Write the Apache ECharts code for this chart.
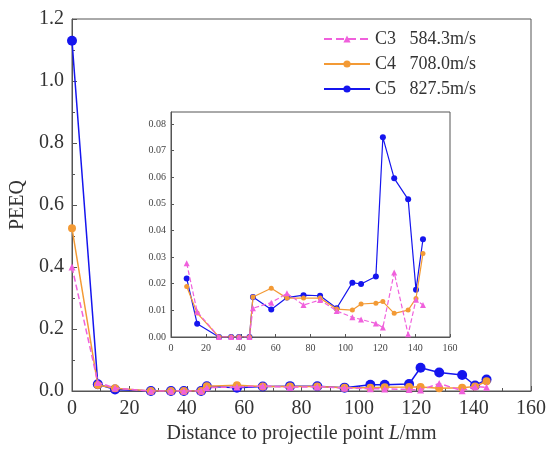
<!DOCTYPE html>
<html><head><meta charset="utf-8">
<script src="https://cdn.jsdelivr.net/npm/echarts@6/dist/echarts.min.js"></script>
<style>html,body{margin:0;padding:0;background:#fff}#c{width:549px;height:450px}</style>
</head><body><div id="c"></div>
<script>
var distances = [0, 9, 15, 27.5, 34.5, 39, 45, 47, 57.5, 66.5, 76, 85.5, 95, 104, 109, 117.5, 121.5, 128, 136, 140.5, 144.5];
var peeqC3 = [0.40, 0.0277, 0.0095, 0, 0, 0, 0, 0.0108, 0.0129, 0.0164, 0.012, 0.0139, 0.0098, 0.0074, 0.0066, 0.0051, 0.0036, 0.0242, 0.001, 0.014, 0.012];
var peeqC4 = [0.525, 0.019, 0.009, 0, 0, 0, 0, 0.015, 0.0183, 0.0146, 0.0146, 0.0146, 0.0105, 0.0101, 0.0124, 0.0127, 0.0133, 0.0089, 0.0101, 0.0145, 0.0314];
var peeqC5 = [1.13, 0.022, 0.005, 0, 0, 0, 0, 0.015, 0.0103, 0.0148, 0.0157, 0.0155, 0.0108, 0.0204, 0.0199, 0.0227, 0.075, 0.0596, 0.0517, 0.0177, 0.0367];
var caseNames = ['C3', 'C4', 'C5'];
var speeds = ['584.3m/s', '708.0m/s', '827.5m/s'];
var mainXTicks = [0, 160, 20];
var mainYTicks = [0, 1.2, 0.2];
var insetXTicks = [0, 160, 20];
var insetYTicks = [0, 0.0845, 0.01];

function pairs(xs, ys, from) {
  var out = [];
  for (var i = from; i < xs.length; i++) out.push([xs[i], ys[i]]);
  return out;
}
var FONT = 'Liberation Serif';
var colors = ['#f060dc', '#f39a35', '#1515ee'];
var symbols = ['triangle', 'circle', 'circle'];
var values = [peeqC3, peeqC4, peeqC5];
var labels = caseNames.map(function (n, i) { return n + '   ' + speeds[i]; });

var axisCol = '#555';
function mkSeries(i, grid, inset) {
  var order = i === 0 ? 3 : i === 1 ? 2 : 1;
  return {
    name: labels[i], type: 'line',
    xAxisIndex: grid, yAxisIndex: grid,
    data: pairs(distances, values[i], inset ? 1 : 0),
    symbol: symbols[i],
    symbolSize: inset ? [6, 5, 6][i] : [7, 8, 10][i],
    showSymbol: true,
    lineStyle: { color: colors[i], width: inset ? 1.2 : 1.5, type: i === 0 ? 'dashed' : 'solid' },
    itemStyle: { color: colors[i] },
    z: (inset ? 20 : 2) + order,
    animation: false
  };
}

var series = [];
[2, 1, 0].forEach(function (i) { series.push(mkSeries(i, 0, false)); });
[2, 1, 0].forEach(function (i) { series.push(mkSeries(i, 1, true)); });

var chart = echarts.init(document.getElementById('c'), null, { renderer: 'canvas' });
chart.setOption({
  backgroundColor: '#fff',
  animation: false,
  textStyle: { fontFamily: FONT },
  legend: {
    data: labels,
    orient: 'vertical',
    left: 318, top: 25,
    itemWidth: 46, itemHeight: 9, itemGap: 7,
    textStyle: { fontFamily: FONT, fontSize: 18, color: '#333' }
  },
  grid: [
    { left: 72, top: 19, right: 17, bottom: 59, show: true, borderColor: axisCol, borderWidth: 1, backgroundColor: '#fff' },
    { left: 171, top: 112, right: 99, bottom: 113, show: true, borderColor: axisCol, borderWidth: 1, backgroundColor: '#fff', z: 5 }
  ],
  xAxis: [
    {
      gridIndex: 0, type: 'value', min: mainXTicks[0], max: mainXTicks[1], interval: mainXTicks[2],
      name: '{a|Distance to projectile point }{b|L}{a|/mm}', nameLocation: 'middle', nameGap: 24,
      nameTextStyle: { rich: { a: { fontFamily: FONT, fontSize: 20, color: '#333' }, b: { fontFamily: FONT, fontSize: 20, fontStyle: 'italic', color: '#333' } } },
      axisLine: { lineStyle: { color: axisCol } },
      axisTick: { inside: true, length: 5, lineStyle: { color: axisCol } },
      minorTick: { show: true, splitNumber: 2, length: 3, lineStyle: { color: axisCol } },
      axisLabel: { fontFamily: FONT, fontSize: 20, color: '#333', margin: 8 },
      splitLine: { show: false }
    },
    {
      gridIndex: 1, type: 'value', min: insetXTicks[0], max: insetXTicks[1], interval: insetXTicks[2],
      axisLine: { lineStyle: { color: axisCol } },
      axisTick: { inside: true, length: 3, lineStyle: { color: axisCol } },
      axisLabel: { fontFamily: FONT, fontSize: 10, color: '#444', margin: 6 },
      splitLine: { show: false }, z: 6
    }
  ],
  yAxis: [
    {
      gridIndex: 0, type: 'value', min: mainYTicks[0], max: mainYTicks[1], interval: mainYTicks[2],
      name: 'PEEQ', nameLocation: 'middle', nameGap: 39,
      nameTextStyle: { fontFamily: FONT, fontSize: 20, color: '#333' },
      axisLine: { show: true, lineStyle: { color: axisCol } },
      axisTick: { show: true, inside: true, length: 5, lineStyle: { color: axisCol } },
      minorTick: { show: true, splitNumber: 2, length: 3, lineStyle: { color: axisCol } },
      axisLabel: { fontFamily: FONT, fontSize: 20, color: '#333', margin: 8, formatter: function (v) { return v.toFixed(1); } },
      splitLine: { show: false }
    },
    {
      gridIndex: 1, type: 'value', min: insetYTicks[0], max: insetYTicks[1], interval: insetYTicks[2],
      axisLine: { show: true, lineStyle: { color: axisCol } },
      axisTick: { show: true, inside: true, length: 3, lineStyle: { color: axisCol } },
      axisLabel: { fontFamily: FONT, fontSize: 10, color: '#444', margin: 5, showMaxLabel: false, formatter: function (v) { return v.toFixed(2); } },
      splitLine: { show: false }, z: 6
    }
  ],
  series: series
});
</script></body></html>
